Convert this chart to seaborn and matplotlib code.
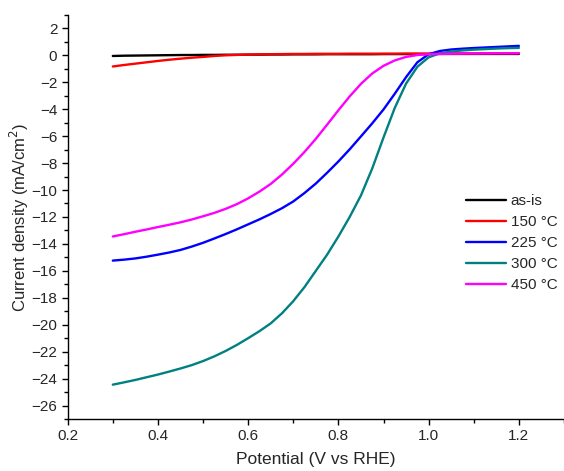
import matplotlib
matplotlib.use("Agg")
import matplotlib.pyplot as plt
from matplotlib.ticker import MultipleLocator
import numpy as np
import pandas as pd
import seaborn as sns

# Datos (potencial en V vs RHE, densidad de corriente en mA/cm2)
potencial = [0.300, 0.325, 0.350, 0.375, 0.400, 0.425, 0.450, 0.475, 0.500, 0.525,
             0.550, 0.575, 0.600, 0.625, 0.650, 0.675, 0.700, 0.725, 0.750, 0.775,
             0.800, 0.825, 0.850, 0.875, 0.900, 0.925, 0.950, 0.975, 1.000, 1.025,
             1.050, 1.075, 1.100, 1.125, 1.150, 1.175, 1.200]

as_is = [-0.05, -0.03, -0.02, -0.01, 0.00, 0.01, 0.02, 0.02, 0.03, 0.03,
         0.04, 0.04, 0.05, 0.05, 0.06, 0.06, 0.07, 0.07, 0.07, 0.08,
         0.08, 0.08, 0.08, 0.08, 0.09, 0.09, 0.09, 0.09, 0.09, 0.10,
         0.10, 0.10, 0.10, 0.10, 0.10, 0.10, 0.10]
t150 = [-0.83, -0.72, -0.62, -0.52, -0.42, -0.33, -0.25, -0.18, -0.12, -0.05,
        0.00, 0.03, 0.05, 0.07, 0.08, 0.09, 0.10, 0.10, 0.11, 0.11,
        0.11, 0.12, 0.12, 0.12, 0.12, 0.12, 0.13, 0.13, 0.13, 0.14,
        0.14, 0.14, 0.14, 0.15, 0.15, 0.15, 0.15]
t225 = [-15.24, -15.17, -15.08, -14.95, -14.80, -14.64, -14.45, -14.20, -13.92, -13.60,
        -13.27, -12.92, -12.55, -12.18, -11.78, -11.35, -10.85, -10.22, -9.52, -8.72,
        -7.88, -6.98, -6.02, -5.05, -4.02, -2.85, -1.62, -0.52, 0.08, 0.32,
        0.43, 0.49, 0.54, 0.58, 0.62, 0.66, 0.70]
t300 = [-24.45, -24.28, -24.10, -23.90, -23.70, -23.48, -23.25, -23.00, -22.70, -22.35,
        -21.95, -21.50, -21.00, -20.48, -19.90, -19.15, -18.25, -17.20, -16.00, -14.80,
        -13.45, -12.00, -10.40, -8.40, -6.10, -3.90, -2.10, -0.85, -0.15, 0.15,
        0.28, 0.36, 0.42, 0.46, 0.50, 0.53, 0.55]
t450 = [-13.45, -13.28, -13.10, -12.93, -12.75, -12.58, -12.40, -12.19, -11.95, -11.70,
        -11.40, -11.05, -10.62, -10.12, -9.55, -8.85, -8.05, -7.17, -6.20, -5.15,
        -4.08, -3.05, -2.12, -1.35, -0.78, -0.38, -0.12, 0.02, 0.08, 0.10,
        0.12, 0.13, 0.14, 0.14, 0.15, 0.15, 0.16]

etiquetas = ["as-is", "150 °C", "225 °C", "300 °C", "450 °C"]
colores = ["#000000", "#ff0000", "#0000ff", "#008080", "#ff00ff"]
series = [as_is, t150, t225, t300, t450]

df = pd.concat([pd.DataFrame({"Potencial": potencial, "Corriente": s, "Muestra": e})
                for s, e in zip(series, etiquetas)], ignore_index=True)

sns.set_style("ticks")
plt.rcParams["font.family"] = ["Liberation Sans", "DejaVu Sans"]

fig = plt.figure(figsize=(5.64, 4.71), dpi=100)
ax = fig.add_axes([0.120, 0.1104, 0.880, 0.858])

sns.lineplot(data=df, x="Potencial", y="Corriente", hue="Muestra",
             hue_order=etiquetas, palette=colores, linewidth=1.7, ax=ax,
             sort=False, estimator=None)

ax.set_xlim(0.2, 1.3)
ax.set_ylim(-27, 3)
ax.xaxis.set_major_locator(MultipleLocator(0.2))
ax.xaxis.set_minor_locator(MultipleLocator(0.1))
ax.yaxis.set_major_locator(MultipleLocator(2))
ax.yaxis.set_minor_locator(MultipleLocator(1))
ax.set_xticks([0.2, 0.4, 0.6, 0.8, 1.0, 1.2])
ax.tick_params(which="major", direction="out", length=4, width=1, labelsize=11, color="black")
ax.tick_params(which="minor", direction="out", length=3, width=1, color="black")
sns.despine(ax=ax)
for sp in ["left", "bottom"]:
    ax.spines[sp].set_color("black")
    ax.spines[sp].set_linewidth(1.0)

ax.set_xlabel("Potential (V vs RHE)", fontsize=12.5, labelpad=6)
ax.set_ylabel("Current density (mA/cm$^2$)", fontsize=12, labelpad=0)

leg = ax.legend(loc="center left", bbox_to_anchor=(0.797, 0.435), frameon=False,
                fontsize=11, handlelength=2.6, handletextpad=0.3, labelspacing=0.45,
                borderaxespad=0, borderpad=0.2)
for linea in leg.get_lines():
    linea.set_linewidth(1.7)

fig.savefig("out.png", dpi=100)
